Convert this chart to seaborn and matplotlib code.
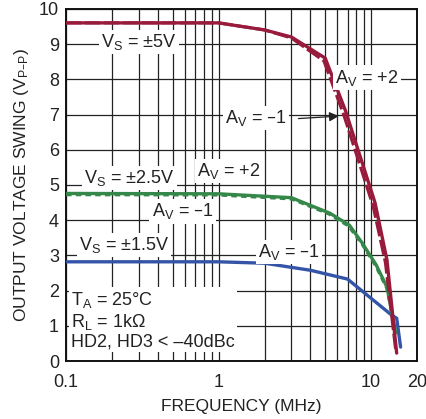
import numpy as np
import pandas as pd
import matplotlib
matplotlib.use("Agg")
import matplotlib.pyplot as plt
import seaborn as sns

# curve data (frequency in MHz, swing in Vp-p)
f_5v_p2 = [0.1, 1, 2, 3, 5, 6.8, 10.6, 12.7, 14.7]
v_5v_p2 = [9.6, 9.6, 9.4, 9.2, 8.6, 7.1, 4.5, 2.87, 0.23]
f_5v_m1 = [0.1, 1, 2, 3, 4.9, 6.6, 10.3, 12.4, 14.5]
v_5v_m1 = [9.6, 9.6, 9.4, 9.17, 8.52, 7.0, 4.4, 2.8, 0.3]

f_25v_p2 = [0.1, 1, 3, 5.36, 7.2, 8.75, 10.8, 12.7, 13.7, 14.5]
v_25v_p2 = [4.76, 4.75, 4.64, 4.2, 3.86, 3.35, 2.73, 2.1, 1.36, 0.8]
f_25v_m1 = [0.1, 1, 3, 5.3, 7.1, 8.7, 10.7, 12.6, 13.7, 14.5]
v_25v_m1 = [4.72, 4.71, 4.6, 4.17, 3.83, 3.32, 2.7, 2.08, 1.36, 0.8]

f_15v_m1 = [0.1, 1, 2, 4, 7, 13.7, 14.7, 15.6]
v_15v_m1 = [2.82, 2.82, 2.78, 2.58, 2.33, 1.3, 1.22, 0.4]

red = "#981b3c"
green = "#36884a"
blue = "#3454a8"

sns.set_style("white")
plt.rcParams['font.family'] = ['Liberation Sans Narrow', 'Liberation Sans', 'DejaVu Sans']
plt.rcParams['mathtext.default'] = 'regular'

fig = plt.figure(figsize=(4.26, 4.19), dpi=100)
ax = fig.add_axes([0.155, 0.138, 0.824, 0.841])

def df(f, v):
    return pd.DataFrame({"f": f, "v": v})

sns.lineplot(data=df(f_15v_m1, v_15v_m1), x="f", y="v", color=blue, lw=2.4, ax=ax, zorder=3)
sns.lineplot(data=df(f_25v_p2, v_25v_p2), x="f", y="v", color=green, lw=2.4, ax=ax, zorder=3)
sns.lineplot(data=df(f_25v_m1, v_25v_m1), x="f", y="v", color=green, lw=2.0, ax=ax, zorder=3,
             linestyle=(0, (2, 1.5)))
sns.lineplot(data=df(f_5v_p2, v_5v_p2), x="f", y="v", color=red, lw=2.4, ax=ax, zorder=4)
sns.lineplot(data=df(f_5v_m1, v_5v_m1), x="f", y="v", color=red, lw=2.2, ax=ax, zorder=4,
             linestyle=(0, (5, 1.2)))

ax.set_xscale("log")
ax.set_xlim(0.1, 20)
ax.set_ylim(0, 10)
ax.set_xticks([0.1, 1, 10, 20])
ax.set_xticklabels(["0.1", "1", "10", "20"])
ax.set_yticks(range(0, 11))
minor = [k * d for d in (0.1, 1, 10) for k in range(2, 10) if k * d < 20]
ax.set_xticks(minor, minor=True)
ax.xaxis.set_minor_formatter(matplotlib.ticker.NullFormatter())
ax.grid(True, which="both", color="#222222", lw=0.9)
ax.tick_params(which="both", length=0, labelsize=13, colors="#222222")
ax.tick_params(axis="x", pad=9)
ax.tick_params(axis="y", pad=5)
for s in ax.spines.values():
    s.set_color("#111111")
    s.set_linewidth(1.4)

ax.set_xlabel("FREQUENCY (MHz)", fontsize=12.5, color="#222222", labelpad=6)
ax.set_ylabel("OUTPUT VOLTAGE SWING (V$_{P–P}$)", fontsize=12.5, color="#222222", labelpad=6)

box = dict(facecolor="white", edgecolor="none", pad=1.5)
def lab(x, y, s, ha="center"):
    ax.text(x, y, s, fontsize=13, ha=ha, va="center", color="#222222", bbox=box, zorder=5)

lab(0.3, 9.05, "V$_S$ = ±5V")
lab(9.4, 8.05, "A$_V$ = +2")
lab(1.76, 6.9, "A$_V$ = –1")
ax.annotate("", xy=(6.4, 6.96), xytext=(3.2, 6.88),
            arrowprops=dict(arrowstyle="-|>", color="#222222", lw=0.9, mutation_scale=14), zorder=6)
lab(0.26, 5.2, "V$_S$ = ±2.5V")
lab(1.16, 5.4, "A$_V$ = +2")
lab(0.58, 4.25, "A$_V$ = –1")
lab(0.24, 3.3, "V$_S$ = ±1.5V")
lab(2.9, 3.1, "A$_V$ = –1")
ax.text(0.108, 1.16, "T$_A$ = 25°C\nR$_L$ = 1kΩ\nHD2, HD3 < –40dBc", fontsize=13, ha="left",
        va="center", color="#222222", linespacing=1.1, bbox=box, zorder=5)

fig.savefig("out.png", dpi=100)
